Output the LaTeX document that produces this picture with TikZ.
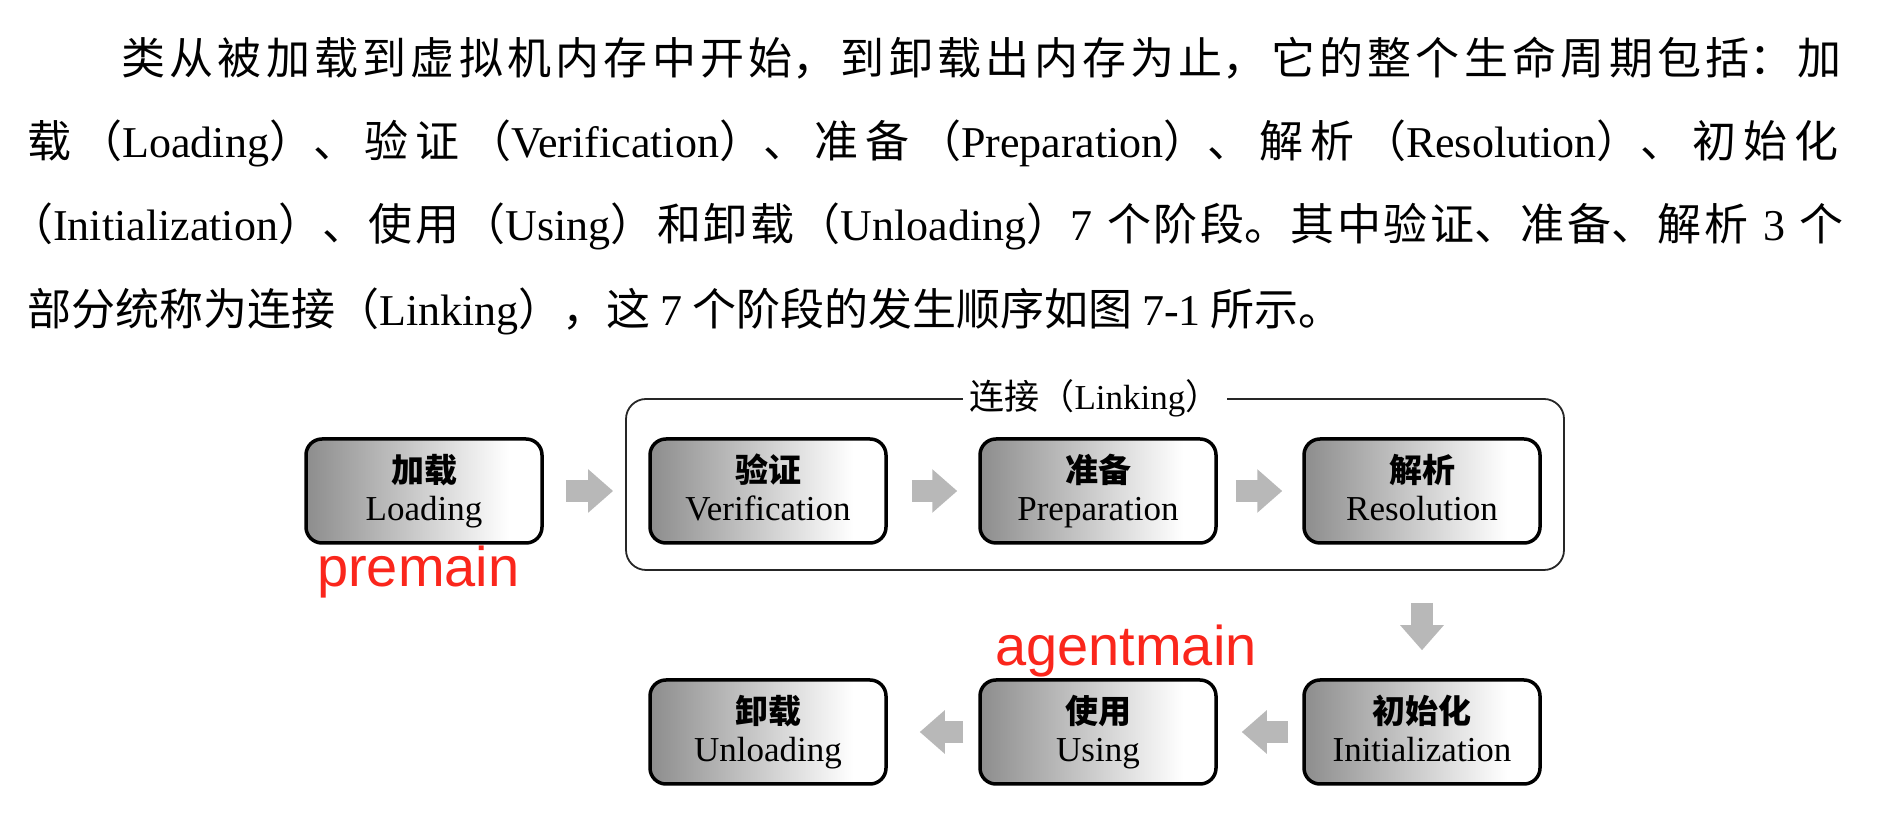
\documentclass[tikz,border=0pt]{standalone}
\usepackage{fontspec}
\setmainfont{Noto Sans CJK SC}
\newfontfamily\lat{Liberation Serif}
\newfontfamily\tagfont{Liberation Sans}
\usetikzlibrary{arrows.meta,calc}
\definecolor{tagred}{RGB}{250,38,28}
\pgfdeclarehorizontalshading{stageshade}{100bp}{color(0bp)=(black!72); color(20bp)=(black!50); color(68bp)=(white); color(100bp)=(white)}
\newcommand{\zhjust}{\XeTeXlinebreaklocale "zh"\XeTeXlinebreakskip=0pt plus 1fil\parfillskip=0pt\noindent}
\newcommand{\stagetext}[2]{{\bfseries #1}\\{\lat\fontsize{35}{38}\selectfont #2\vphantom{Lg}}}

\begin{document}
\begin{tikzpicture}[x=1pt, y=1pt,
    stage/.style={draw, line width=3.5pt, rounded corners=16pt, minimum width=236pt, minimum height=104pt,
        inner sep=0pt, shade, shading=stageshade, align=center, font=\fontsize{33}{38}\selectfont},
    linkbox/.style={draw=black!85, line width=1.8pt, rounded corners=20pt, minimum width=938pt, minimum height=171pt},
    flow/.style={draw=black!28, line width=22pt, -{Triangle[length=25pt, width=42pt]}},
    bodyline/.style={anchor=base west, inner sep=0pt, font=\fontsize{44}{50}\selectfont},
    tag/.style={anchor=base west, inner sep=0pt, text=tagred, font=\tagfont\fontsize{56}{60}\selectfont}]
    \useasboundingbox (0,0) rectangle (1892,821);

    % Đoạn văn
    \node[bodyline, text width=1725pt] (line1) at (121,746) {\zhjust 类从被加载到虚拟机内存中开始，到卸载出内存为止，它的整个生命周期包括：加};
    \node[bodyline, text width=1819pt] (line2) at (27,663) {\zhjust 载（{\lat Loading}）、验证（{\lat Verification}）、准备（{\lat Preparation}）、解析（{\lat Resolution}）、初始化};
    \node[bodyline, text width=1819pt] (line3) at (27,580) {\zhjust \hspace*{-18pt}（{\lat Initialization}）、使用（{\lat Using}）和卸载（{\lat Unloading}）{\lat 7} 个阶段。其中验证、准备、解析 {\lat 3} 个};
    \node[bodyline] (line4) at (27,495) {部分统称为连接（{\lat Linking}），这 {\lat 7} 个阶段的发生顺序如图 {\lat 7-1} 所示。};

    % Khung liên kết
    \node[linkbox] (link) at (1095,336.5) {};
    \node[fill=white, inner xsep=7pt, inner ysep=2pt, font=\fontsize{35}{38}\selectfont] (linkname) at (link.north) {连接（{\lat Linking}）};

    % Các giai đoạn
    \node[stage] (load) at (424,330) {\stagetext{加载}{Loading}};
    \node[stage] (ver) at (768,330) {\stagetext{验证}{Verification}};
    \node[stage] (prep) at (1098,330) {\stagetext{准备}{Preparation}};
    \node[stage] (res) at (1422,330) {\stagetext{解析}{Resolution}};
    \node[stage] (init) at (1422,89) {\stagetext{初始化}{Initialization}};
    \node[stage] (using) at (1098,89) {\stagetext{使用}{Using}};
    \node[stage] (unload) at (768,89) {\stagetext{卸载}{Unloading}};

    % Mũi tên
    \draw[flow, shorten <=22pt, shorten >=12pt] (load) -- (load -| link.west);
    \draw[flow, shorten <=24pt, shorten >=21pt] (ver) -- (prep);
    \draw[flow, shorten <=18pt, shorten >=20pt] (prep) -- (res);
    \draw[flow, shorten <=32pt, shorten >=28pt] (res |- link.south) -- (init);
    \draw[flow, shorten <=14pt, shorten >=24pt] (init) -- (using);
    \draw[flow, shorten <=15pt, shorten >=32pt] (using) -- (unload);

    % Nhãn đỏ
    \node[tag] (pre) at (317,234) {premain};
    \node[tag] (agent) at (995,155) {agentmain};
\end{tikzpicture}
\end{document}
